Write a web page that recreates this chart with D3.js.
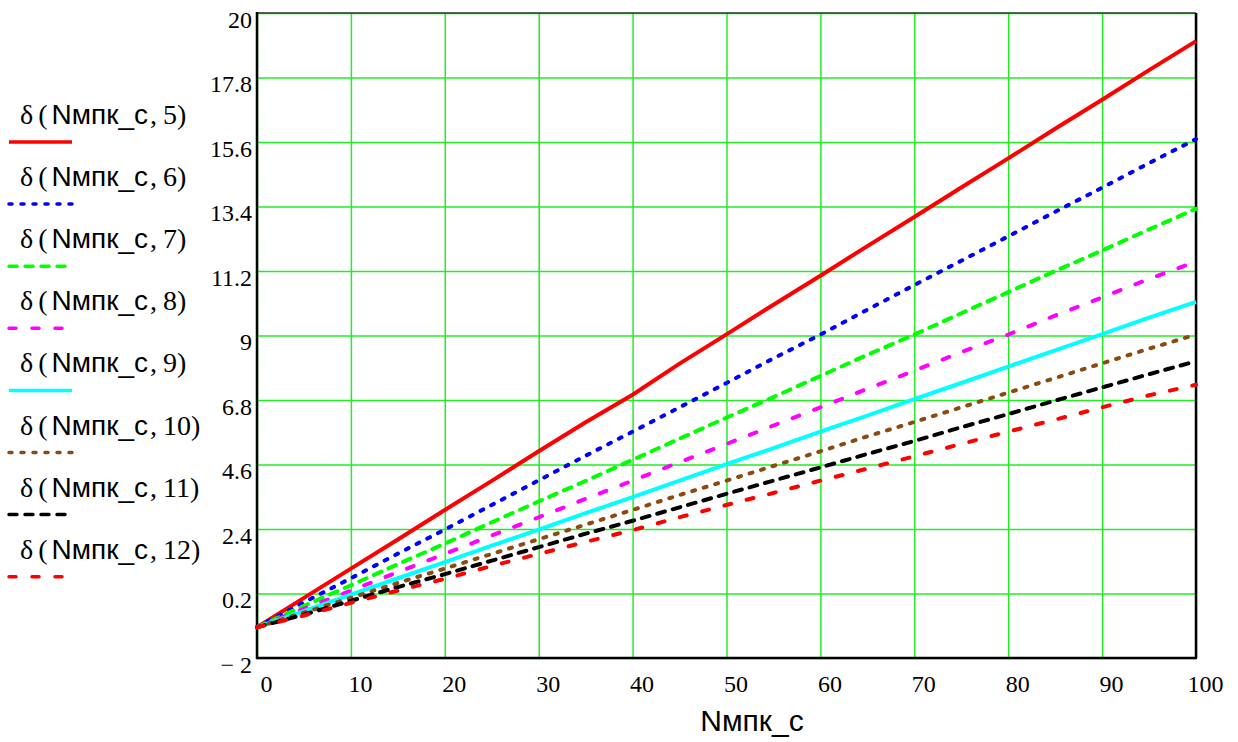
<!DOCTYPE html>
<html>
<head>
<meta charset="utf-8">
<script src="https://cdn.jsdelivr.net/npm/d3@7"></script>
<style>
  body { margin: 0; background: #fff; }
  svg { display: block; }
</style>
</head>
<body>
<script>
// N values (x) read at every 5
const nValues = [0,5,10,15,20,25,30,35,40,45,50,55,60,65,70,75,80,85,90,95,100];

// delta(N, k)
const delta5  = [-0.95,0.05,1.05,2.04,3.05,4.04,5.05,6.04,6.98,8.04,9.04,10.05,11.04,12.05,13.04,14.05,15.04,16.05,17.04,18.05,19.04];
const delta6  = [-0.95,-0.10,0.72,1.56,2.38,3.22,4.06,4.90,5.72,6.55,7.38,8.22,9.03,9.88,10.72,11.55,12.38,13.22,14.04,14.88,15.70];
const delta7  = [-0.95,-0.22,0.48,1.20,1.90,2.63,3.34,4.04,4.76,5.48,6.20,6.90,7.62,8.34,9.03,9.76,10.48,11.20,11.90,12.62,13.32];
const delta8  = [-0.95,-0.32,0.30,0.93,1.55,2.18,2.80,3.43,4.05,4.68,5.30,5.93,6.55,7.18,7.80,8.43,9.03,9.68,10.30,10.93,11.52];
const delta9  = [-0.95,-0.40,0.16,0.72,1.27,1.83,2.38,2.94,3.49,4.05,4.61,5.16,5.72,6.27,6.83,7.38,7.94,8.49,9.05,9.61,10.15];
const delta10 = [-0.95,-0.45,0.05,0.56,1.05,1.55,2.05,2.55,3.05,3.56,4.05,4.55,5.05,5.56,6.05,6.55,7.05,7.55,8.05,8.55,9.03];
const delta11 = [-0.95,-0.52,-0.05,0.42,0.86,1.32,1.78,2.24,2.68,3.14,3.60,4.05,4.50,4.96,5.40,5.87,6.32,6.78,7.23,7.68,8.12];
const delta12 = [-0.95,-0.55,-0.12,0.30,0.70,1.14,1.55,1.96,2.36,2.80,3.22,3.63,4.05,4.46,4.88,5.30,5.72,6.13,6.55,6.96,7.32];

const seriesK = ["5","6","7","8","9","10","11","12"];
const seriesValues = [delta5, delta6, delta7, delta8, delta9, delta10, delta11, delta12];
const seriesColors = ["#ff0000","#0000ff","#00ff00","#ff00ff","#00ffff","#8b4a10","#000000","#ff0000"];
const seriesDash = [null,"3,9","8,8","7,16",null,"3,9","8,8","7,16"];

// Tick labels
const yTicks = [-2,0.2,2.4,4.6,6.8,9,11.2,13.4,15.6,17.8,20];
const yTickLabels = ["\u2212 2","0.2","2.4","4.6","6.8","9","11.2","13.4","15.6","17.8","20"];
const xTicks = [0,10,20,30,40,50,60,70,80,90,100];

const W = 1238, H = 742;
const pLeft = 257, pRight = 1196, pTop = 13, pBottom = 658;
const serif = "'Liberation Serif', 'Times New Roman', serif";
const sans = "'Liberation Sans', Arial, sans-serif";

const svg = d3.select("body").append("svg")
    .attr("width", W)
    .attr("height", H);

const x = d3.scaleLinear().domain([0,100]).range([pLeft,pRight]);
const y = d3.scaleLinear().domain([-2,20]).range([pBottom,pTop]);

// grid
svg.append("g")
    .attr("transform", "translate(0," + pBottom + ")")
    .call(d3.axisBottom(x).tickValues(xTicks).tickSize(-(pBottom-pTop)).tickFormat(""))
    .call(g => g.select(".domain").remove())
    .selectAll("line").attr("stroke","#22ee22").attr("stroke-width",1.5);

svg.append("g")
    .attr("transform", "translate(" + pLeft + ",0)")
    .call(d3.axisLeft(y).tickValues(yTicks).tickSize(-(pRight-pLeft)).tickFormat(""))
    .call(g => g.select(".domain").remove())
    .selectAll("line").attr("stroke","#22ee22").attr("stroke-width",1.5);

// frame
svg.append("line").attr("x1",pLeft).attr("x2",pRight).attr("y1",pTop).attr("y2",pTop)
    .attr("stroke","#333").attr("stroke-width",1.5);
svg.append("line").attr("x1",pRight).attr("x2",pRight).attr("y1",pTop).attr("y2",pBottom)
    .attr("stroke","#000").attr("stroke-width",2.5);
svg.append("line").attr("x1",pLeft).attr("x2",pLeft).attr("y1",pTop-1).attr("y2",pBottom+1)
    .attr("stroke","#000").attr("stroke-width",2.5);
svg.append("line").attr("x1",pLeft-1).attr("x2",pRight+1).attr("y1",pBottom).attr("y2",pBottom)
    .attr("stroke","#000").attr("stroke-width",2.5);

// y tick labels
const yAxis = svg.append("g")
    .attr("transform", "translate(" + pLeft + ",0)")
    .call(d3.axisLeft(y).tickValues(yTicks).tickSize(0).tickPadding(5)
        .tickFormat((d,i) => yTickLabels[i]));
yAxis.select(".domain").remove();
yAxis.selectAll("text")
    .attr("dy","0.6em")
    .style("font-family", serif)
    .style("font-size","24px")
    .attr("fill","#000");

// x tick labels
const xAxis = svg.append("g")
    .attr("transform", "translate(0," + pBottom + ")")
    .call(d3.axisBottom(x).tickValues(xTicks).tickSize(0).tickPadding(0));
xAxis.select(".domain").remove();
xAxis.selectAll("text")
    .attr("dx", 9)
    .attr("y", 34)
    .attr("dy", 0)
    .style("font-family", serif)
    .style("font-size","24px")
    .attr("fill","#000");

// x title
svg.append("text")
    .attr("x", 752)
    .attr("y", 731)
    .attr("text-anchor","middle")
    .style("font-family", sans)
    .style("font-size","30px")
    .text("Nмпк_с");

// lines
const line = d3.line()
    .x((d,i) => x(nValues[i]))
    .y(d => y(d));

svg.append("g").selectAll("path")
    .data(seriesValues)
    .enter()
    .append("path")
    .attr("d", d => line(d))
    .attr("fill","none")
    .attr("stroke", (d,i) => seriesColors[i])
    .attr("stroke-width", 4)
    .attr("stroke-linecap", (d,i) => seriesDash[i] ? "round" : "butt")
    .attr("stroke-dasharray", (d,i) => seriesDash[i]);

// legend
const legend = svg.append("g")
    .selectAll("g")
    .data(seriesK)
    .enter().append("g")
    .attr("transform", (d,i) => "translate(0," + (142 + i*62.1) + ")");

legend.append("line")
    .attr("x1", 9).attr("x2", 72)
    .attr("stroke", (d,i) => seriesColors[i])
    .attr("stroke-width", 3.5)
    .attr("stroke-linecap", (d,i) => seriesDash[i] ? "round" : "butt")
    .attr("stroke-dasharray", (d,i) => seriesDash[i]);

const lt = legend.append("text")
    .attr("x", 20)
    .attr("y", -18)
    .style("font-size","28px");
lt.append("tspan").style("font-family", serif).text("δ");
lt.append("tspan").attr("dx", 5).style("font-family", serif).text("(");
lt.append("tspan").attr("dx", 4).style("font-family", sans).text("Nмпк_с");
lt.append("tspan").attr("dx", 2).style("font-family", serif).text(",");
lt.append("tspan").attr("dx", 6).style("font-family", serif).text(d => d + ")");
</script>
</body>
</html>
